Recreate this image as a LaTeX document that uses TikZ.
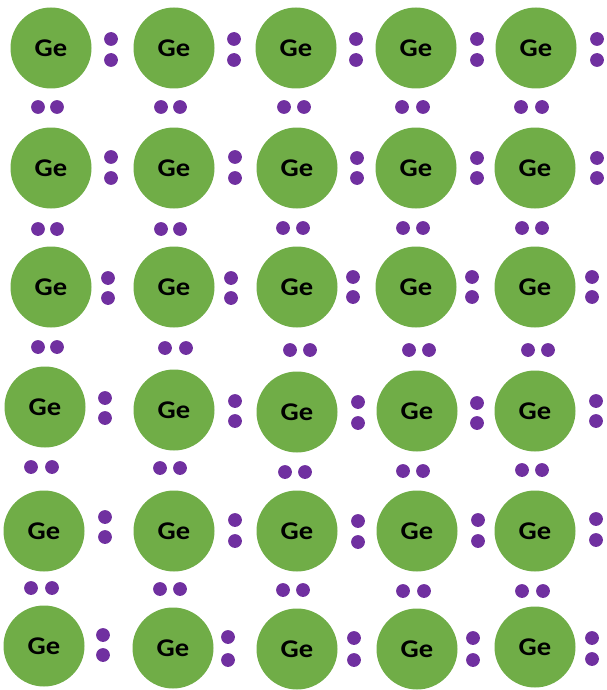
\documentclass[tikz,border=0pt]{standalone}
\usepackage{fontspec}
\setmainfont{Carlito}
\definecolor{atomgreen}{HTML}{70AD47}
\definecolor{elec}{HTML}{7030A0}
\begin{document}
\begin{tikzpicture}[x=1pt,y=-1pt,
  atom/.style={circle,fill=atomgreen,minimum size=81pt,inner sep=0pt,
    font=\fontsize{25.5}{25.5}\selectfont\bfseries},
  electron/.style={circle,fill=elec,minimum size=13.8pt,inner sep=0pt}]
\fill[white] (0,0) rectangle (607,690);
\useasboundingbox (0,0) rectangle (607,690);
% atoms
\foreach \x/\y [count=\i] in {
  51/48,174/48,296/48,416/48,536/48,
  51/168,174/168,297/168,416/168,535/168,
  51/287,174/287,297/287,416/287,535/287,
  45/407,174/410,297/412,417/411,535/411,
  44/531,174/531,297/531,417/531,535/531,
  44/646,173/648,297/649,417/649,535/647}
  \node[atom] (a\i) at (\x,\y) {\scalebox{1.12}[1]{Ge}};
% vertical electron pairs (right of each atom)
\foreach \x/\ya/\yb [count=\i] in {
  111/39/60,234/39/60,356/39/60,477/39/60,597/39/60,
  111/157/178,235/157/178,357/158/178,477/158/178,597/158/178,
  108/278/298,231/278/298,353/277/297,472/277/297,592/277/297,
  105/398/418,235/401/421,358/402/423,477/403/423,596/401/421,
  105/517/537,235/520/541,358/521/542,478/520/541,596/519/540,
  103/635/655,228/637/660,354/638/660,473/638/660,592/638/659}
{
  \node[electron] (ru\i) at (\x,\ya) {};
  \node[electron] (rd\i) at (\x,\yb) {};
}
% horizontal electron pairs (between rows)
\foreach \xa/\xb/\y [count=\i] in {
  38/57/107,161/180/107,284/304/107,402/423/107,521/542/107,
  38/57/229,161/180/229,283/303/228,403/423/228,522/542/228,
  38/57/347,165/186/348,290/310/350,409/429/350,528/548/350,
  31/52/467,160/180/468,285/305/472,403/423/471,522/542/470,
  31/52/588,160/180/589,283/303/590,403/424/591,522/543/591}
{
  \node[electron] (hl\i) at (\xa,\y) {};
  \node[electron] (hr\i) at (\xb,\y) {};
}
\end{tikzpicture}
\end{document}
